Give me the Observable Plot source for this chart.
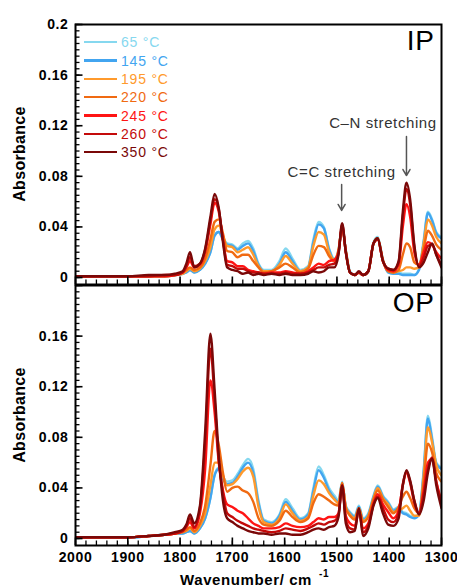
<!DOCTYPE html>
<html><head><meta charset="utf-8">
<script src="https://cdn.jsdelivr.net/npm/d3@7"></script>
<script src="https://cdn.jsdelivr.net/npm/@observablehq/plot@0.6"></script>
<style>
body{margin:0;background:#fff;}
#wrap{position:relative;width:457px;height:587px;overflow:hidden;font-family:"Liberation Sans",Arial,sans-serif;}
#wrap svg{position:absolute;left:0;}
.ylab{position:absolute;font-weight:bold;font-size:16px;white-space:nowrap;transform:translate(-50%,-50%) rotate(-90deg);color:#000;letter-spacing:0.3px;}
.xlab{position:absolute;font-weight:bold;font-size:15px;white-space:nowrap;color:#000;letter-spacing:0.6px;}
.xlab sup{font-size:10px;position:relative;top:-8px;margin-left:7px;vertical-align:baseline;}
.legend{position:absolute;left:84px;top:33px;}
.legend div{height:18.35px;display:flex;align-items:center;font-size:14px;letter-spacing:0.8px;}
.legend span.sw{display:inline-block;width:33px;height:2.5px;margin-right:4px;}
</style></head><body><div id="wrap"></div>
<script>
const wavenumbers = [2000,1950,1900,1860,1830,1810,1795,1788,1781,1773,1762,1752,1742,1734,1726,1718,1710,1700,1690,1680,1670,1660,1650,1640,1625,1610,1598,1585,1570,1555,1545,1535,1525,1515,1505,1497,1490,1483,1475,1466,1458,1450,1440,1430,1422,1412,1402,1392,1382,1374,1367,1360,1352,1343,1334,1326,1318,1310,1300];
const temperatures = ["65 °C","145 °C","195 °C","220 °C","245 °C","260 °C","350 °C"];
const colors = ["#86d8ef","#42a5f0","#ff9a2c","#f06a12","#ff1414","#c40a0a","#7a0808"];

// In-plane (IP)
const ip65  = [0.001,0.001,0.0005,0.001,0.001,0.002,0.003,0.004,0.006,0.004,0.006,0.011,0.020,0.033,0.036,0.031,0.027,0.026,0.023,0.027,0.029,0.023,0.011,0.006,0.006,0.013,0.023,0.015,0.006,0.009,0.030,0.044,0.040,0.023,0.015,0.022,0.041,0.022,0.005,0.002,0.004,0.002,0.005,0.028,0.032,0.014,0.004,0.003,0.004,0.003,0.003,0.003,0.002,0.007,0.030,0.052,0.046,0.036,0.032];
const ip145 = [0.001,0.001,0.0005,0.001,0.001,0.002,0.003,0.004,0.006,0.004,0.006,0.011,0.020,0.033,0.036,0.030,0.026,0.025,0.022,0.025,0.027,0.021,0.010,0.005,0.005,0.011,0.020,0.013,0.005,0.008,0.028,0.042,0.039,0.022,0.014,0.021,0.040,0.021,0.004,0.002,0.004,0.002,0.005,0.027,0.031,0.014,0.004,0.003,0.003,0.002,0.002,0.002,0.002,0.006,0.028,0.051,0.045,0.035,0.031];
const ip195 = [0.001,0.001,0.001,0.001,0.001,0.002,0.003,0.005,0.007,0.005,0.007,0.013,0.024,0.038,0.041,0.033,0.025,0.024,0.020,0.022,0.024,0.018,0.009,0.005,0.005,0.010,0.017,0.011,0.005,0.008,0.025,0.036,0.034,0.020,0.014,0.022,0.040,0.021,0.004,0.002,0.004,0.002,0.005,0.027,0.031,0.014,0.005,0.004,0.005,0.006,0.008,0.008,0.007,0.008,0.027,0.046,0.041,0.032,0.027];
const ip220 = [0.001,0.001,0.001,0.001,0.001,0.002,0.004,0.006,0.008,0.006,0.008,0.015,0.030,0.044,0.046,0.035,0.021,0.020,0.016,0.018,0.018,0.013,0.008,0.004,0.005,0.008,0.011,0.008,0.004,0.007,0.018,0.025,0.024,0.017,0.013,0.021,0.040,0.021,0.004,0.002,0.004,0.002,0.005,0.027,0.031,0.013,0.005,0.004,0.006,0.018,0.027,0.024,0.012,0.010,0.023,0.037,0.033,0.026,0.022];
const ip245 = [0.001,0.001,0.001,0.001,0.001,0.002,0.004,0.008,0.013,0.008,0.010,0.020,0.042,0.059,0.052,0.030,0.013,0.012,0.009,0.009,0.006,0.005,0.004,0.003,0.004,0.004,0.005,0.004,0.003,0.005,0.008,0.011,0.010,0.013,0.014,0.020,0.041,0.020,0.004,0.002,0.004,0.002,0.005,0.027,0.030,0.013,0.006,0.005,0.010,0.040,0.058,0.048,0.020,0.010,0.020,0.028,0.026,0.020,0.015];
const ip260 = [0.001,0.001,0.001,0.001,0.002,0.002,0.004,0.009,0.016,0.009,0.011,0.022,0.045,0.062,0.054,0.030,0.010,0.009,0.007,0.007,0.005,0.004,0.004,0.003,0.003,0.003,0.004,0.003,0.003,0.004,0.006,0.008,0.008,0.010,0.011,0.019,0.042,0.020,0.004,0.002,0.004,0.002,0.005,0.027,0.030,0.013,0.007,0.006,0.012,0.048,0.070,0.058,0.024,0.009,0.016,0.025,0.026,0.018,0.010];
const ip350 = [0.001,0.001,0.001,0.002,0.002,0.003,0.005,0.011,0.020,0.008,0.011,0.023,0.048,0.066,0.055,0.028,0.008,0.006,0.005,0.003,0.004,0.002,0.003,0.002,0.003,0.002,0.003,0.002,0.002,0.003,0.005,0.004,0.005,0.008,0.008,0.018,0.043,0.020,0.004,0.002,0.005,0.002,0.005,0.027,0.031,0.013,0.007,0.006,0.013,0.052,0.075,0.062,0.026,0.008,0.012,0.020,0.027,0.018,0.008];

// Out-of-plane (OP)
const op65  = [0.001,0.001,0.0005,0.002,0.003,0.004,0.004,0.005,0.006,0.004,0.008,0.016,0.032,0.050,0.056,0.049,0.045,0.046,0.051,0.058,0.063,0.055,0.030,0.015,0.013,0.019,0.031,0.024,0.016,0.020,0.040,0.057,0.050,0.040,0.034,0.030,0.045,0.026,0.021,0.018,0.026,0.016,0.020,0.034,0.042,0.034,0.029,0.023,0.025,0.021,0.020,0.018,0.017,0.020,0.055,0.097,0.080,0.060,0.056];
const op145 = [0.001,0.001,0.0005,0.002,0.003,0.004,0.004,0.005,0.006,0.004,0.008,0.016,0.032,0.050,0.055,0.047,0.043,0.044,0.049,0.056,0.060,0.052,0.028,0.014,0.012,0.018,0.029,0.022,0.015,0.019,0.038,0.054,0.048,0.038,0.032,0.029,0.044,0.025,0.020,0.017,0.025,0.015,0.019,0.033,0.041,0.033,0.028,0.022,0.024,0.020,0.019,0.017,0.016,0.019,0.053,0.095,0.078,0.059,0.055];
const op195 = [0.001,0.001,0.001,0.002,0.003,0.004,0.005,0.006,0.008,0.005,0.010,0.020,0.042,0.060,0.060,0.050,0.042,0.043,0.047,0.053,0.056,0.049,0.025,0.013,0.011,0.016,0.027,0.020,0.014,0.017,0.034,0.046,0.043,0.036,0.031,0.028,0.044,0.025,0.019,0.016,0.024,0.014,0.018,0.032,0.040,0.032,0.027,0.021,0.022,0.024,0.026,0.022,0.018,0.018,0.050,0.088,0.076,0.058,0.050];
const op220 = [0.001,0.001,0.001,0.002,0.003,0.004,0.005,0.007,0.009,0.006,0.012,0.026,0.058,0.085,0.074,0.052,0.037,0.040,0.041,0.038,0.036,0.029,0.016,0.011,0.010,0.014,0.022,0.017,0.013,0.016,0.028,0.035,0.033,0.030,0.027,0.026,0.044,0.024,0.018,0.015,0.024,0.013,0.017,0.031,0.038,0.031,0.025,0.020,0.025,0.033,0.037,0.032,0.024,0.020,0.045,0.075,0.068,0.052,0.045];
const op245 = [0.001,0.001,0.001,0.002,0.003,0.004,0.006,0.009,0.013,0.008,0.020,0.055,0.125,0.100,0.060,0.038,0.027,0.025,0.022,0.020,0.016,0.012,0.010,0.008,0.008,0.009,0.012,0.010,0.009,0.010,0.013,0.016,0.015,0.017,0.017,0.020,0.042,0.018,0.012,0.010,0.022,0.008,0.012,0.028,0.035,0.027,0.021,0.016,0.022,0.042,0.052,0.044,0.028,0.020,0.038,0.060,0.063,0.045,0.030];
const op260 = [0.001,0.001,0.001,0.002,0.003,0.004,0.006,0.010,0.016,0.009,0.024,0.075,0.150,0.110,0.062,0.036,0.020,0.017,0.014,0.012,0.010,0.008,0.007,0.006,0.005,0.006,0.008,0.007,0.006,0.008,0.010,0.012,0.011,0.013,0.014,0.019,0.042,0.015,0.008,0.007,0.023,0.005,0.010,0.027,0.033,0.024,0.015,0.013,0.020,0.043,0.053,0.045,0.030,0.020,0.035,0.055,0.064,0.045,0.027];
const op350 = [0.001,0.001,0.001,0.002,0.003,0.005,0.007,0.011,0.019,0.012,0.026,0.085,0.162,0.118,0.066,0.030,0.016,0.013,0.010,0.008,0.006,0.005,0.004,0.004,0.003,0.004,0.004,0.003,0.003,0.005,0.007,0.008,0.007,0.009,0.010,0.017,0.042,0.012,0.005,0.006,0.024,0.002,0.008,0.026,0.032,0.020,0.011,0.010,0.016,0.042,0.054,0.046,0.030,0.019,0.030,0.052,0.063,0.042,0.024];

const ipSeries = [ip65, ip145, ip195, ip220, ip245, ip260, ip350];
const opSeries = [op65, op145, op195, op220, op245, op260, op350];

const yMajorTicks = [0, 0.04, 0.08, 0.12, 0.16, 0.2];
const xMajorTicks = [2000, 1900, 1800, 1700, 1600, 1500, 1400, 1300];

const annoLabels = ["C=C stretching", "C\u2013N stretching"];
const annoWave = [1491, 1367];
const annoTextWave = [1491, 1412];
const annoTextY = [0.083, 0.1217];
const annoArrowStart = [0.0735, 0.1115];
const annoArrowEnd = [0.053, 0.0806];

const yMinorTicks = d3.range(0, 41).map(i => +(i * 0.005).toFixed(3));
const xMinorTicks = d3.range(0, 36).map(i => 2000 - i * 20);
const fmtY = d => d === 0 ? "0" : String(+d.toFixed(2));

const X_DOMAIN = [2000, 1300];
const Y_DOMAIN = [-0.0055, 0.2];
const FW = 457 - 75 - 16; // frame width in px
const FH = 260;           // frame height in px
const xPerPx = (X_DOMAIN[0] - X_DOMAIN[1]) / FW;
const yPerPx = (Y_DOMAIN[1] - Y_DOMAIN[0]) / FH;

function panel(series, o) {
  const marks = [];
  series.forEach((vals, i) => {
    const rows = wavenumbers.map((w, j) => ({w, a: vals[j]}));
    marks.push(Plot.line(rows, {x: "w", y: "a", stroke: colors[i], strokeWidth: 2.4, curve: "monotone-x", clip: true}));
  });
  // inward ticks along the left edge and bottom edge (lengths in px converted through the scales)
  marks.push(Plot.ruleY(yMinorTicks, {y: d => d, x1: X_DOMAIN[0], x2: X_DOMAIN[0] - 4.5 * xPerPx, stroke: "#000", strokeWidth: 1.3}));
  marks.push(Plot.ruleY(yMajorTicks, {y: d => d, x1: X_DOMAIN[0], x2: X_DOMAIN[0] - 7.5 * xPerPx, stroke: "#000", strokeWidth: 1.6}));
  marks.push(Plot.ruleX(xMinorTicks, {x: d => d, y1: Y_DOMAIN[0], y2: Y_DOMAIN[0] + 4.5 * yPerPx, stroke: "#000", strokeWidth: 1.3}));
  marks.push(Plot.ruleX(xMajorTicks, {x: d => d, y1: Y_DOMAIN[0], y2: Y_DOMAIN[0] + 7.5 * yPerPx, stroke: "#000", strokeWidth: 1.6}));
  marks.push(Plot.frame({stroke: "#000", strokeWidth: 2}));
  marks.push(Plot.axisY(o.labelTicks, {tickSize: 0, tickPadding: 7, tickFormat: fmtY, label: null, fontSize: 14, fontWeight: "bold"}));
  if (o.xLabels) marks.push(Plot.axisX(xMajorTicks, {anchor: "bottom", tickSize: 0, tickPadding: 7, tickFormat: d => String(d), label: null, fontSize: 14, fontWeight: "bold"}));
  else marks.push(Plot.axisX([], {anchor: "bottom", tickSize: 0, label: null}));
  marks.push(Plot.text([o.name], {frameAnchor: "top-right", text: d => d, dx: -7, dy: o.nameDy, fontSize: 28, fontWeight: "normal", lineAnchor: "top"}));
  if (o.annotate) {
    const ann = annoLabels.map((label, i) => ({label, w: annoWave[i], tw: annoTextWave[i], ty: annoTextY[i], y1: annoArrowStart[i], y2: annoArrowEnd[i]}));
    marks.push(Plot.arrow(ann, {x1: "w", x2: "w", y1: "y1", y2: "y2", stroke: "#555", strokeWidth: 1.5, headLength: 7}));
    marks.push(Plot.text(ann, {x: "tw", y: "ty", text: "label", fontSize: 15, fontWeight: "normal", fill: "#333"}));
  }
  const svg = Plot.plot({
    width: 457, height: o.height,
    marginLeft: 75, marginRight: 16, marginTop: o.marginTop, marginBottom: o.marginBottom,
    x: {domain: X_DOMAIN},
    y: {domain: Y_DOMAIN},
    style: {fontFamily: "'Liberation Sans', Arial, sans-serif", fontSize: "14px", fontWeight: "bold", color: "#000", background: "transparent", overflow: "visible", letterSpacing: "0.6px"},
    marks
  });
  svg.style.top = o.top + "px";
  return svg;
}

const wrap = document.getElementById("wrap");
wrap.appendChild(panel(ipSeries, {height: 285, marginTop: 24, marginBottom: 1, top: 0, labelTicks: yMajorTicks, xLabels: false, name: "IP", nameDy: 6, annotate: true}));
wrap.appendChild(panel(opSeries, {height: 303, marginTop: 1, marginBottom: 42, top: 284, labelTicks: yMajorTicks.slice(0, 5), xLabels: true, name: "OP", nameDy: 7, annotate: false}));

// y-axis titles
[154, 415].forEach(cy => {
  const d = document.createElement("div");
  d.className = "ylab";
  d.style.left = "20px"; d.style.top = cy + "px";
  d.textContent = "Absorbance";
  wrap.appendChild(d);
});
// x-axis title
const xt = document.createElement("div");
xt.className = "xlab";
xt.style.left = "180px"; xt.style.top = "571px";
xt.innerHTML = "Wavenumber/ cm<sup>-1</sup>";
wrap.appendChild(xt);

// legend
const lg = document.createElement("div");
lg.className = "legend";
temperatures.forEach((t, i) => {
  const row = document.createElement("div");
  const sw = document.createElement("span"); sw.className = "sw"; sw.style.background = colors[i];
  const tx = document.createElement("span"); tx.textContent = t; tx.style.color = colors[i];
  row.appendChild(sw); row.appendChild(tx);
  lg.appendChild(row);
});
wrap.appendChild(lg);
</script></body></html>
